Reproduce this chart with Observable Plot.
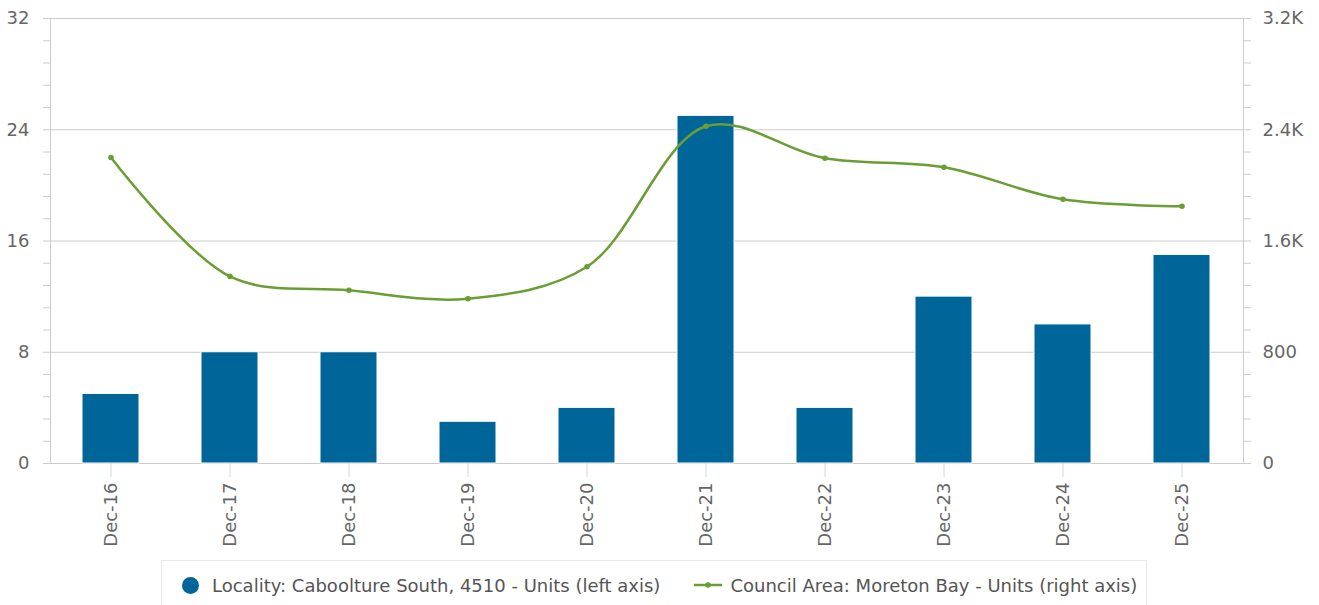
<!DOCTYPE html>
<html>
<head>
<meta charset="utf-8">
<script src="https://cdn.jsdelivr.net/npm/d3@7"></script>
<script src="https://cdn.jsdelivr.net/npm/@observablehq/plot@0.6"></script>
<style>
  html, body { margin: 0; padding: 0; background: #fff; }
  body { width: 1319px; height: 605px; overflow: hidden; font-family: "DejaVu Sans", sans-serif; }
  #legend {
    position: absolute; left: 161px; top: 560px; width: 986px; height: 50px;
    border: 1px solid #e8e8e8; box-sizing: border-box; background: #fff;
    font-size: 18px; color: #555; display: flex; align-items: center;
  }
  .item { display: flex; align-items: center; white-space: nowrap; }
  .circ { width: 17px; height: 17px; border-radius: 50%; background: #006699; margin-left: 20px; margin-right: 13px; }
  .lsym { margin-left: 34px; margin-right: 8px; }
</style>
</head>
<body>
<div id="chart"></div>
<div id="legend">
  <div class="item"><span class="circ"></span><span>Locality: Caboolture South, 4510 - Units (left axis)</span></div>
  <div class="item"><svg class="lsym" width="28" height="10"><line x1="0" y1="5" x2="28" y2="5" stroke="#6a9e35" stroke-width="2.5"/><circle cx="14" cy="5" r="2.8" fill="#6a9e35"/></svg><span>Council Area: Moreton Bay - Units (right axis)</span></div>
</div>
<script>
const categories = ["Dec-16","Dec-17","Dec-18","Dec-19","Dec-20","Dec-21","Dec-22","Dec-23","Dec-24","Dec-25"];
const locality = [5, 8, 8, 3, 4, 25, 4, 12, 10, 15];
const council = [2200, 1345, 1245, 1185, 1415, 2425, 2195, 2130, 1900, 1850];
const leftTicks = [0, 8, 16, 24, 32];
const rightTicks = [0, 800, 1600, 2400, 3200];

const data = categories.map((c, i) => ({cat: c, loc: locality[i], cou: council[i]}));
const minor = d3.range(0, 33, 1.6).map(v => +v.toFixed(2));
const fmtR = v => v >= 1000 ? (v / 1000) + "K" : String(v);
const blank = () => "";

const chart = Plot.plot({
  width: 1319,
  height: 555,
  marginLeft: 50,
  marginRight: 76,
  marginTop: 18,
  marginBottom: 92,
  style: {fontFamily: "DejaVu Sans, sans-serif", fontSize: "18px", color: "#666", background: "#fff"},
  x: {type: "band", domain: categories, paddingInner: 0.52, paddingOuter: 0.26, label: null},
  y: {domain: [0, 32], label: null},
  marks: [
    Plot.gridY(leftTicks, {stroke: "#ccc", strokeOpacity: 1}),
    Plot.axisY(minor, {anchor: "left", tickSize: 7, stroke: "#ccc", tickFormat: blank, label: null}),
    Plot.axisY(leftTicks, {anchor: "left", tickSize: 0, tickPadding: 21, fill: "#666", label: null, fontSize: 18}),
    Plot.axisY(minor, {anchor: "right", tickSize: 7, stroke: "#ccc", tickFormat: blank, label: null}),
    Plot.axisY(rightTicks.map(v => v / 100), {anchor: "right", tickSize: 0, tickPadding: 19, fill: "#666", label: null, fontSize: 18, tickFormat: v => fmtR(Math.round(v * 100))}),
    Plot.frame({stroke: "#ccc"}),
    Plot.barY(data, {x: "cat", y: "loc", fill: "#006699", stroke: "#fff", strokeWidth: 1}),
    Plot.axisX({tickRotate: -90, tickSize: 14, stroke: "#ccd6eb", tickPadding: 5, fill: "#666", fontSize: 18, label: null}),
    Plot.line(data, {x: "cat", y: d => d.cou / 100, curve: "catmull-rom", stroke: "#6a9e35", strokeWidth: 2.5}),
    Plot.dot(data, {x: "cat", y: d => d.cou / 100, r: 2.8, fill: "#6a9e35"})
  ]
});
document.getElementById("chart").appendChild(chart);
</script>
</body>
</html>
